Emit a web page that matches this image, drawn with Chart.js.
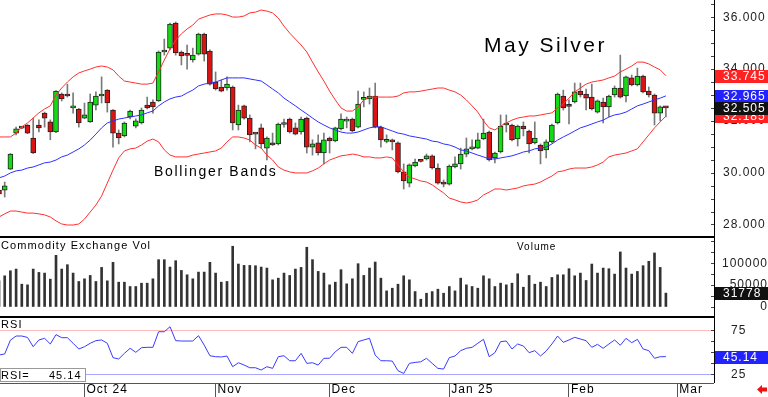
<!DOCTYPE html>
<html><head><meta charset="utf-8">
<script src="https://cdn.jsdelivr.net/npm/chart.js@4/dist/chart.umd.min.js"></script>
<style>html,body{margin:0;padding:0;background:#fff;overflow:hidden}canvas{display:block}</style>
</head><body>
<canvas id="c" width="768" height="397" style="width:768px;height:397px"></canvas>
<script>
// ---- data ----
const monthTickIdx = [15, 38, 58, 79, 100, 119];
const monthLabels = ['Oct 24', 'Nov', 'Dec', 'Jan 25', 'Feb', 'Mar'];
const priceTicks = [28, 30, 32, 34, 36];
const volTicks = [0, 50000, 100000];
const rsiTicks = [25, 50, 75];

const openP = [29.33,29.33,30.14,31.53,31.72,31.84,31.34,31.84,32.30,31.96,31.57,33.04,33.04,32.50,32.46,32.11,31.96,32.61,32.96,33.19,
32.42,31.53,31.42,32.15,31.80,31.92,32.61,32.73,32.77,34.66,34.81,35.78,34.66,34.55,34.35,34.58,35.35,34.70,33.50,33.31,
33.27,33.31,31.84,32.58,32.11,31.50,31.73,30.95,31.15,31.11,31.86,32.07,31.73,31.57,32.11,30.99,31.15,30.76,31.34,31.23,
31.69,31.99,32.07,31.76,32.83,32.85,32.96,31.76,31.21,31.27,31.15,30.03,29.60,30.26,30.47,30.53,30.65,30.18,29.64,29.56,
30.22,30.34,30.72,30.92,30.95,31.30,31.57,30.57,30.80,31.84,31.84,31.30,31.80,31.61,31.15,31.07,30.88,31.19,31.92,32.96,
32.58,32.73,33.15,33.04,32.92,32.34,32.73,32.54,33.00,33.27,32.96,33.66,33.39,33.73,33.15,33.00,32.30,32.53];
const highP = [29.41,29.64,30.74,31.76,31.78,31.86,32.11,32.04,32.34,32.04,33.17,33.08,33.42,33.08,32.48,32.69,33.04,33.12,33.70,33.21,
32.44,31.65,31.96,32.42,32.08,32.50,32.92,32.81,34.70,35.16,35.78,35.82,34.70,34.93,34.81,35.39,35.39,34.74,33.89,33.58,
33.70,33.35,32.61,32.61,32.23,31.53,31.88,31.38,31.53,31.92,32.07,32.11,31.92,32.15,32.15,31.27,31.46,31.53,31.38,31.76,
32.27,32.15,32.11,33.15,33.12,33.27,33.46,31.80,31.46,31.30,31.19,30.34,30.34,30.53,30.49,30.72,30.69,30.34,29.72,30.30,
30.61,30.95,31.34,31.27,31.53,32.07,31.61,30.80,32.23,32.23,31.88,31.84,31.96,31.65,31.96,31.11,31.27,31.88,33.08,33.19,
32.81,33.46,33.46,33.23,33.42,32.81,32.88,33.00,33.35,34.54,33.73,33.77,34.04,33.77,33.31,33.04,32.58,32.56];
const lowP = [29.06,29.06,30.12,31.46,31.70,31.51,30.74,31.57,31.76,31.27,31.55,32.77,32.92,32.30,31.76,32.08,31.94,32.42,32.69,32.34,
30.99,31.11,31.38,32.08,31.73,31.88,32.46,32.30,32.75,34.54,34.74,34.54,34.16,34.00,34.27,34.54,34.31,33.38,33.19,33.12,
33.19,31.65,31.65,32.07,31.19,30.92,30.95,30.49,31.05,31.07,31.76,31.53,31.46,31.49,30.76,30.68,30.68,30.34,30.76,31.19,
31.65,31.73,31.57,31.73,32.54,32.65,31.73,30.99,31.15,30.88,29.99,29.37,29.45,30.22,30.41,30.49,30.14,29.56,29.45,29.52,
30.18,30.14,30.61,30.88,30.92,31.27,30.45,30.38,30.76,31.57,31.23,31.03,31.42,30.76,31.11,30.34,30.57,31.15,31.88,32.42,
31.88,32.69,32.92,32.42,32.42,32.30,31.92,32.15,32.92,32.88,32.73,33.35,33.35,33.08,32.92,31.84,32.00,32.15];
const closeP = [29.18,29.49,30.72,31.69,31.74,31.53,30.76,31.73,32.11,31.57,33.15,32.85,32.96,32.52,31.92,32.23,32.73,32.96,33.04,32.69,
31.53,31.34,31.92,32.38,32.00,32.42,32.50,32.54,34.66,34.70,35.74,34.62,34.51,34.53,34.54,35.35,34.58,33.42,33.23,33.15,
33.42,31.92,32.42,32.11,31.46,31.49,31.11,31.34,31.07,31.88,31.88,31.57,31.49,32.07,30.99,31.11,30.76,31.27,31.23,31.73,
32.07,32.07,31.61,32.65,32.85,32.96,31.76,31.27,31.23,31.19,30.03,29.68,30.30,30.41,30.44,30.65,30.18,29.60,29.56,30.26,
30.34,30.72,30.92,30.99,31.27,31.53,30.49,30.76,31.80,31.88,31.27,31.80,31.69,31.11,31.34,30.84,31.19,31.84,33.04,32.50,
32.56,33.12,33.00,32.88,32.46,32.77,32.54,32.96,33.27,32.92,33.70,33.39,33.73,33.12,33.00,32.30,32.54,32.505];

const bbUpper = [31.38,31.38,31.38,31.53,31.77,31.92,32.11,32.31,32.46,32.58,33.00,33.27,33.50,33.70,33.85,33.93,34.00,34.08,34.12,34.08,
33.97,33.73,33.54,33.50,33.46,33.42,33.42,33.46,33.89,34.35,34.78,35.12,35.36,35.55,35.70,35.93,36.01,36.09,36.13,36.13,
36.09,36.01,36.01,36.05,36.17,36.20,36.28,36.24,36.17,35.97,35.66,35.39,35.16,34.93,34.66,34.27,33.89,33.54,33.15,32.81,
32.50,32.38,32.38,32.54,32.81,32.92,32.92,32.92,32.92,32.92,32.96,33.08,33.12,33.12,33.15,33.19,33.23,33.27,33.27,33.19,
33.12,33.00,32.81,32.58,32.34,32.00,31.73,31.65,31.80,31.92,32.03,32.11,32.15,32.19,32.19,32.23,32.27,32.31,32.50,32.65,
32.88,33.12,33.27,33.42,33.50,33.54,33.58,33.66,33.73,33.89,34.00,34.12,34.27,34.27,34.20,34.08,33.97,33.745];
const bbMiddle = [29.80,29.87,29.99,30.07,30.10,30.18,30.22,30.30,30.38,30.41,30.49,30.61,30.68,30.80,30.92,31.07,31.26,31.49,31.73,31.92,
32.00,32.07,32.11,32.15,32.19,32.23,32.31,32.38,32.58,32.73,32.85,32.92,32.96,33.08,33.19,33.35,33.42,33.46,33.50,33.58,
33.66,33.66,33.66,33.66,33.62,33.58,33.54,33.39,33.23,33.08,32.88,32.73,32.58,32.42,32.27,32.11,31.96,31.84,31.73,31.65,
31.57,31.53,31.53,31.57,31.65,31.73,31.77,31.77,31.69,31.61,31.53,31.49,31.42,31.38,31.34,31.30,31.22,31.19,31.11,31.07,
30.99,30.88,30.84,30.76,30.68,30.61,30.53,30.53,30.57,30.61,30.65,30.72,30.80,30.84,30.92,30.95,30.99,31.11,31.26,31.38,
31.49,31.61,31.73,31.80,31.88,31.96,32.03,32.15,32.23,32.27,32.34,32.46,32.58,32.65,32.73,32.81,32.88,32.965];
const bbLower = [28.29,28.41,28.52,28.52,28.48,28.44,28.44,28.41,28.37,28.29,28.14,28.02,27.98,27.98,28.02,28.21,28.48,28.75,29.10,29.60,
30.10,30.57,30.84,30.92,30.95,31.07,31.22,31.30,31.19,30.88,30.68,30.61,30.61,30.61,30.68,30.72,30.76,30.80,30.84,30.95,
31.19,31.38,31.38,31.34,31.26,31.07,30.95,30.68,30.49,30.22,30.10,30.03,29.99,29.99,29.99,30.07,30.18,30.34,30.49,30.57,
30.65,30.68,30.72,30.68,30.61,30.61,30.57,30.57,30.61,30.57,30.30,30.03,29.83,29.76,29.68,29.64,29.53,29.37,29.22,29.02,
28.95,28.87,28.83,28.87,28.95,29.14,29.25,29.37,29.37,29.33,29.37,29.41,29.49,29.53,29.56,29.64,29.76,29.87,30.03,30.07,
30.14,30.18,30.18,30.18,30.22,30.30,30.41,30.61,30.68,30.72,30.76,30.84,30.92,31.19,31.46,31.73,31.96,32.185];

const volume = [60000,71400,82900,86800,52200,50700,86800,79100,77600,63700,118300,86800,96800,77600,58400,64500,72200,58400,90600,59900,
102200,56800,56800,46900,46900,54500,54500,64500,108300,108300,91400,106000,83700,73700,64500,79900,79900,102200,77600,56800,
58400,139000,98300,95200,95200,94500,91400,89100,62200,66000,77600,72200,86800,90600,136700,108300,81400,77600,50700,56800,
85300,53000,64500,99100,72200,89100,102900,66000,36900,43000,52200,71400,62200,35300,17700,31500,35300,40700,31500,46900,
36900,66000,50700,46900,43000,71400,64500,46900,54500,50700,54500,76000,45300,72200,52200,56800,46900,67600,73700,73700,
87600,71400,77600,60700,98300,77600,89100,87600,75300,126000,89100,75300,81400,94500,104500,123700,90600,31778];

const rsi = [47.0,48.2,64.0,68.7,68.7,67.1,56.5,64.2,66.1,59.6,70.3,66.8,66.8,60.4,53.9,56.5,60.4,63.4,64.2,60.4,
44.0,42.5,48.9,54.7,50.1,55.4,55.8,55.8,73.6,73.6,79.3,63.4,63.0,63.0,63.0,69.1,58.4,46.2,45.1,44.8,
45.9,33.7,38.2,35.6,32.5,32.5,29.9,33.7,31.8,45.1,46.2,40.5,40.5,48.9,37.5,38.2,35.6,43.3,43.3,50.8,
55.8,55.8,48.9,62.3,64.2,66.1,47.0,40.5,40.5,40.1,29.1,26.0,37.5,38.6,39.3,43.3,37.5,31.8,31.0,44.0,
45.9,52.0,54.7,55.8,60.4,64.9,45.1,49.7,62.3,63.0,53.9,59.6,57.3,49.7,52.0,45.9,51.6,59.6,68.7,61.5,
64.2,67.2,65.3,63.4,55.8,59.2,54.7,59.6,64.2,58.1,66.1,61.1,64.9,53.9,52.0,43.3,45.1,45.14];

// ---- chart ----
const FONT = '"Liberation Sans", Arial, sans-serif';
Chart.defaults.font.family = FONT;
const xs = openP.map((_, i) => i);
const pts = arr => arr.map((v, i) => ({x: i, y: v}));
const last = a => a[a.length - 1];
const noPad = s => { s.paddingTop = 0; s.paddingBottom = 0; s.paddingLeft = 0; s.paddingRight = 0; };

const deco = {
  id: 'deco',
  beforeLayout(chart) { chart.ctx.letterSpacing = '1px'; },
  beforeDraw(chart) { chart.ctx.letterSpacing = '1px'; },
  afterDraw(chart) {
    const ctx = chart.ctx, ca = chart.chartArea;
    const yP = chart.scales.yP, yV = chart.scales.yV, yR = chart.scales.yR;
    ctx.save();
    // panel borders
    ctx.strokeStyle = '#000';
    ctx.lineWidth = 2;
    ctx.beginPath();
    ctx.moveTo(0, yP.bottom); ctx.lineTo(ca.right, yP.bottom);
    ctx.moveTo(0, yV.bottom); ctx.lineTo(ca.right, yV.bottom);
    ctx.stroke();
    ctx.lineWidth = 1;
    ctx.strokeStyle = '#555';
    ctx.beginPath();
    ctx.moveTo(0, ca.bottom + 0.5); ctx.lineTo(ca.right, ca.bottom + 0.5);
    ctx.stroke();
    ctx.strokeStyle = '#000';
    ctx.beginPath();
    ctx.moveTo(ca.right + 0.5, 0); ctx.lineTo(ca.right + 0.5, ca.bottom);
    ctx.stroke();
    // minor ticks on the right border
    ctx.strokeStyle = '#444';
    ctx.beginPath();
    for (let v = 28; v <= 36.5; v += 0.5) { const y = Math.round(yP.getPixelForValue(v)) + 0.5; ctx.moveTo(ca.right - 3, y); ctx.lineTo(ca.right, y); }
    for (let v = 0; v <= 150000; v += 25000) { const y = Math.round(yV.getPixelForValue(v)) + 0.5; ctx.moveTo(ca.right - 3, y); ctx.lineTo(ca.right, y); }
    for (let v = 25; v <= 75; v += 12.5) { const y = Math.round(yR.getPixelForValue(v)) + 0.5; ctx.moveTo(ca.right - 3, y); ctx.lineTo(ca.right, y); }
    ctx.stroke();

    ctx.textAlign = 'left';
    ctx.textBaseline = 'middle';
    ctx.fillStyle = '#000';
    // title and labels
    ctx.letterSpacing = '2.5px';
    ctx.font = '21px ' + FONT;
    ctx.fillText('May Silver', 484, 46);
    ctx.letterSpacing = '1.7px';
    ctx.font = '14px ' + FONT;
    ctx.fillText('Bollinger Bands', 154, 172);
    ctx.letterSpacing = '1.1px';
    ctx.font = '11px ' + FONT;
    ctx.fillText('Commodity Exchange Vol', 1, 245.5);
    ctx.fillText('RSI', 1, 325);
    ctx.letterSpacing = '1px';
    ctx.font = '10px ' + FONT;
    ctx.fillText('Volume', 517, 247);

    // RSI value box bottom-left
    ctx.fillStyle = '#fff';
    ctx.fillRect(0, 368, 86, 14);
    ctx.strokeStyle = '#999';
    ctx.strokeRect(0.5, 368.5, 85, 13);
    ctx.fillStyle = '#000';
    ctx.font = '11px ' + FONT;
    ctx.fillText('RSI=', 1, 375.5);
    ctx.fillText(last(rsi).toFixed(2), 49, 375.5);

    // right value boxes
    ctx.font = '12px ' + FONT;
    ctx.letterSpacing = '1px';
    const box = (y, txt, bg) => {
      ctx.fillStyle = bg;
      ctx.fillRect(ca.right + 1, Math.round(y) - 6, 53, 13);
      ctx.fillStyle = '#fff';
      ctx.fillText(txt, 723, Math.round(y) + 0.5);
    };
    box(yP.getPixelForValue(last(bbUpper)), last(bbUpper).toFixed(3), '#ff2222');
    box(yP.getPixelForValue(last(bbLower)), last(bbLower).toFixed(3), '#ff2222');
    box(yP.getPixelForValue(last(bbMiddle)), last(bbMiddle).toFixed(3), '#2222ff');
    box(yP.getPixelForValue(last(closeP)), last(closeP).toFixed(3), '#111');
    box(yV.getPixelForValue(last(volume)), String(last(volume)), '#111');
    box(yR.getPixelForValue(last(rsi)), last(rsi).toFixed(2), '#2222ff');

    // red arrow bottom-right
    ctx.fillStyle = '#ee1111';
    ctx.beginPath();
    ctx.moveTo(757, 389.5); ctx.lineTo(762, 385); ctx.lineTo(762, 387.5); ctx.lineTo(767, 387.5);
    ctx.lineTo(767, 391.5); ctx.lineTo(762, 391.5); ctx.lineTo(762, 394); ctx.closePath();
    ctx.fill();
    ctx.restore();
  }
};

new Chart(document.getElementById('c'), {
  type: 'bar',
  data: {
    datasets: [
      { type: 'line', yAxisID: 'yP', data: pts(bbUpper), borderColor: '#ff3030', borderWidth: 1, pointRadius: 0, order: 1 },
      { type: 'line', yAxisID: 'yP', data: pts(bbMiddle), borderColor: '#3030ff', borderWidth: 1, pointRadius: 0, order: 1 },
      { type: 'line', yAxisID: 'yP', data: pts(bbLower), borderColor: '#ff3030', borderWidth: 1, pointRadius: 0, order: 1 },
      { type: 'bar', yAxisID: 'yP', data: xs.map(i => ({x: i, y: [lowP[i], highP[i]]})), backgroundColor: '#7a7a7a', barThickness: 1, grouped: false, order: 3 },
      { type: 'bar', yAxisID: 'yP', data: xs.map(i => ({x: i, y: [openP[i], closeP[i]]})),
        backgroundColor: xs.map(i => closeP[i] >= openP[i] ? '#12dd12' : '#dd1212'),
        borderColor: '#222', borderWidth: 1, borderSkipped: false, barThickness: 5, minBarLength: 2, grouped: false, order: 2 },
      { type: 'bar', yAxisID: 'yV', data: pts(volume), backgroundColor: '#333', barThickness: 2, grouped: false, order: 2 },
      { type: 'line', yAxisID: 'yR', data: pts(rsi), borderColor: '#3a3aff', borderWidth: 1, pointRadius: 0, order: 1 }
    ]
  },
  options: {
    responsive: false, animation: false, devicePixelRatio: 1,
    layout: { padding: 0 },
    plugins: { legend: { display: false }, tooltip: { enabled: false } },
    scales: {
      x: {
        type: 'linear', position: 'bottom', min: 0.175, max: 125.44, offset: false,
        afterBuildTicks: s => { s.ticks = monthTickIdx.map(v => ({value: v})); },
        afterFit: s => { s.height = 14; noPad(s); },
        ticks: { callback: v => monthLabels[monthTickIdx.indexOf(v)] || '', align: 'start', labelOffset: 2, padding: -14.5,
                 font: {size: 12}, color: '#000', maxRotation: 0, autoSkip: false },
        grid: { drawOnChartArea: false, drawTicks: true, tickLength: 14, color: '#555', offset: false },
        border: { display: false }
      },
      yP: {
        type: 'linear', position: 'right', stack: 'panels', stackWeight: 237, weight: 1, min: 27.517, max: 36.668,
        afterBuildTicks: s => { s.ticks = priceTicks.map(v => ({value: v})); },
        afterFit: s => { s.width = 54; noPad(s); },
        ticks: { callback: v => v.toFixed(3), padding: 0, font: {size: 12}, color: '#222' },
        grid: { drawOnChartArea: false, drawTicks: true, tickLength: 9, tickColor: 'rgba(0,0,0,0)' }, border: { display: false }
      },
      yV: {
        type: 'linear', position: 'right', stack: 'panels', stackWeight: 80, weight: 2, min: -22900, max: 160200,
        afterBuildTicks: s => { s.ticks = volTicks.map(v => ({value: v})); },
        afterFit: s => { s.width = 54; noPad(s); },
        ticks: { callback: v => String(v), padding: 0, crossAlign: 'far', font: {size: 12}, color: '#222' },
        grid: { drawOnChartArea: false, drawTicks: true, tickLength: 7, tickColor: 'rgba(0,0,0,0)' }, border: { display: false }
      },
      yR: {
        type: 'linear', position: 'right', stack: 'panels', stackWeight: 66, weight: 3, min: 15.1, max: 90.4,
        afterBuildTicks: s => { s.ticks = rsiTicks.map(v => ({value: v})); },
        afterFit: s => { s.width = 54; noPad(s); },
        ticks: { callback: v => String(v), padding: 0, font: {size: 12}, color: '#222' },
        grid: { drawOnChartArea: true, drawTicks: true, tickLength: 17, lineWidth: 1,
                tickColor: 'rgba(0,0,0,0)',
                color: c => c.tick && c.tick.value === 75 ? '#ffbcbc' : (c.tick && c.tick.value === 50 ? '#bdbdbd' : '#a8a8ff') },
        border: { display: false }
      }
    }
  },
  plugins: [deco]
});
</script>
</body></html>
